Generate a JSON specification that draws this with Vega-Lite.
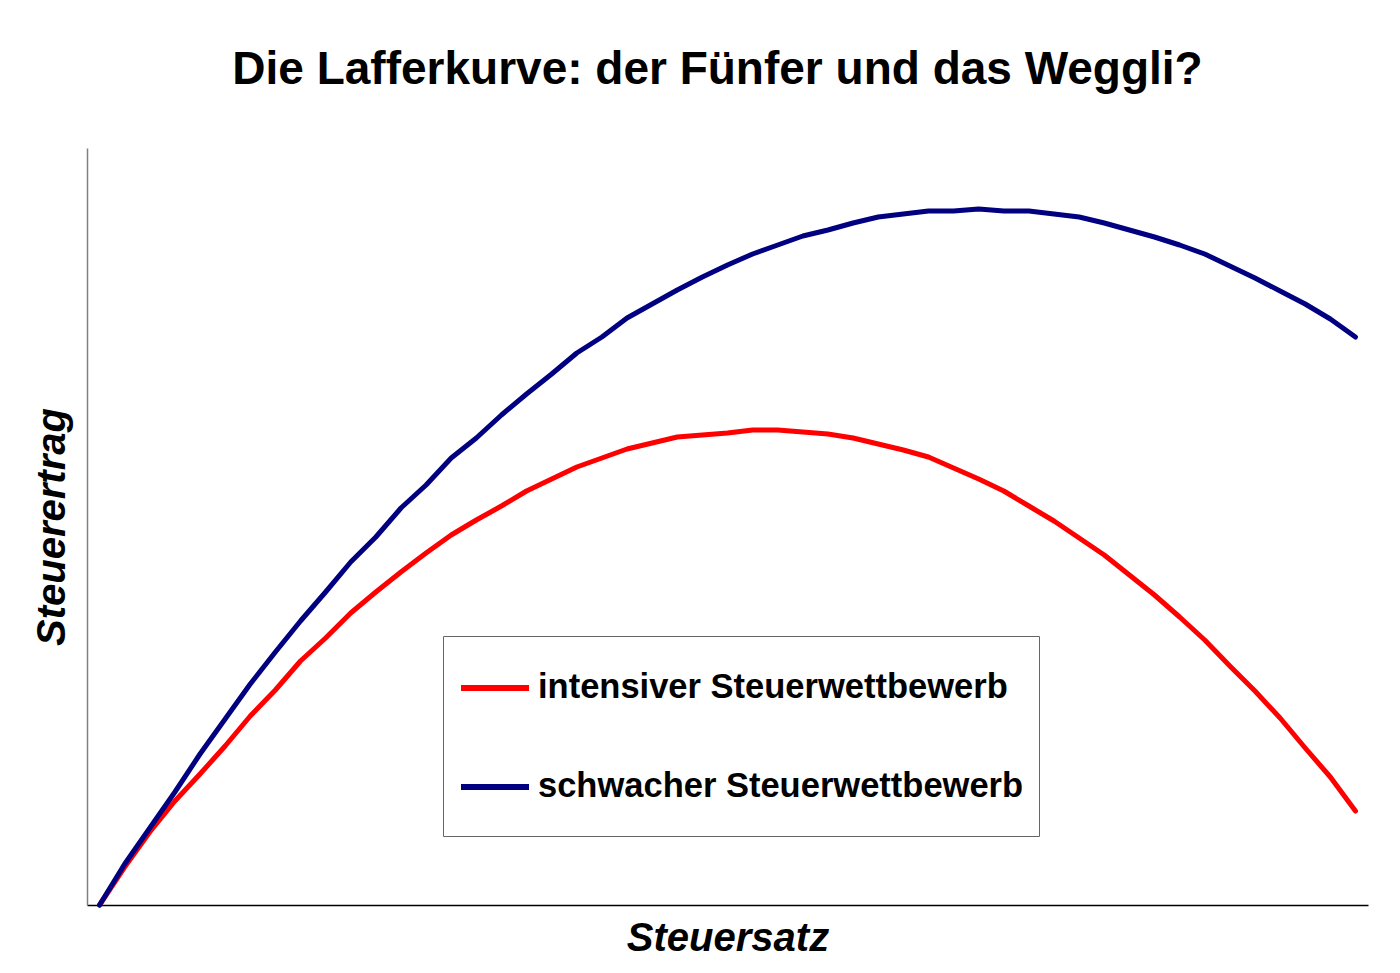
{
  "$schema": "https://vega.github.io/schema/vega-lite/v6.json",
  "autosize": "none",
  "width": 1281,
  "height": 757,
  "padding": {"left": 87, "top": 148, "right": 32, "bottom": 68},
  "background": "white",
  "title": {
    "text": "Die Lafferkurve: der Fünfer und das Weggli?",
    "font": "Liberation Sans",
    "fontSize": 46,
    "fontWeight": "bold",
    "color": "black",
    "anchor": "middle",
    "dx": -10,
    "offset": 54
  },
  "data": {
    "values": [
      {"Steuersatz": 0, "intensiver Steuerwettbewerb": 0, "schwacher Steuerwettbewerb": 0},
      {"Steuersatz": 1, "intensiver Steuerwettbewerb": 38, "schwacher Steuerwettbewerb": 41},
      {"Steuersatz": 2, "intensiver Steuerwettbewerb": 73, "schwacher Steuerwettbewerb": 77},
      {"Steuersatz": 3, "intensiver Steuerwettbewerb": 104, "schwacher Steuerwettbewerb": 113},
      {"Steuersatz": 4, "intensiver Steuerwettbewerb": 131, "schwacher Steuerwettbewerb": 151},
      {"Steuersatz": 5, "intensiver Steuerwettbewerb": 159, "schwacher Steuerwettbewerb": 186},
      {"Steuersatz": 6, "intensiver Steuerwettbewerb": 189, "schwacher Steuerwettbewerb": 221},
      {"Steuersatz": 7, "intensiver Steuerwettbewerb": 215, "schwacher Steuerwettbewerb": 253},
      {"Steuersatz": 8, "intensiver Steuerwettbewerb": 244, "schwacher Steuerwettbewerb": 284},
      {"Steuersatz": 9, "intensiver Steuerwettbewerb": 267, "schwacher Steuerwettbewerb": 313},
      {"Steuersatz": 10, "intensiver Steuerwettbewerb": 292, "schwacher Steuerwettbewerb": 343},
      {"Steuersatz": 11, "intensiver Steuerwettbewerb": 313, "schwacher Steuerwettbewerb": 368},
      {"Steuersatz": 12, "intensiver Steuerwettbewerb": 333, "schwacher Steuerwettbewerb": 397},
      {"Steuersatz": 13, "intensiver Steuerwettbewerb": 352, "schwacher Steuerwettbewerb": 420},
      {"Steuersatz": 14, "intensiver Steuerwettbewerb": 370, "schwacher Steuerwettbewerb": 447},
      {"Steuersatz": 15, "intensiver Steuerwettbewerb": 385, "schwacher Steuerwettbewerb": 467},
      {"Steuersatz": 16, "intensiver Steuerwettbewerb": 399, "schwacher Steuerwettbewerb": 490},
      {"Steuersatz": 17, "intensiver Steuerwettbewerb": 414, "schwacher Steuerwettbewerb": 511},
      {"Steuersatz": 18, "intensiver Steuerwettbewerb": 426, "schwacher Steuerwettbewerb": 531},
      {"Steuersatz": 19, "intensiver Steuerwettbewerb": 438, "schwacher Steuerwettbewerb": 552},
      {"Steuersatz": 20, "intensiver Steuerwettbewerb": 447, "schwacher Steuerwettbewerb": 568},
      {"Steuersatz": 21, "intensiver Steuerwettbewerb": 456, "schwacher Steuerwettbewerb": 587},
      {"Steuersatz": 22, "intensiver Steuerwettbewerb": 462, "schwacher Steuerwettbewerb": 601},
      {"Steuersatz": 23, "intensiver Steuerwettbewerb": 468, "schwacher Steuerwettbewerb": 615},
      {"Steuersatz": 24, "intensiver Steuerwettbewerb": 470, "schwacher Steuerwettbewerb": 628},
      {"Steuersatz": 25, "intensiver Steuerwettbewerb": 472, "schwacher Steuerwettbewerb": 640},
      {"Steuersatz": 26, "intensiver Steuerwettbewerb": 475, "schwacher Steuerwettbewerb": 651},
      {"Steuersatz": 27, "intensiver Steuerwettbewerb": 475, "schwacher Steuerwettbewerb": 660},
      {"Steuersatz": 28, "intensiver Steuerwettbewerb": 473, "schwacher Steuerwettbewerb": 669},
      {"Steuersatz": 29, "intensiver Steuerwettbewerb": 471, "schwacher Steuerwettbewerb": 675},
      {"Steuersatz": 30, "intensiver Steuerwettbewerb": 467, "schwacher Steuerwettbewerb": 682},
      {"Steuersatz": 31, "intensiver Steuerwettbewerb": 461, "schwacher Steuerwettbewerb": 688},
      {"Steuersatz": 32, "intensiver Steuerwettbewerb": 455, "schwacher Steuerwettbewerb": 691},
      {"Steuersatz": 33, "intensiver Steuerwettbewerb": 448, "schwacher Steuerwettbewerb": 694},
      {"Steuersatz": 34, "intensiver Steuerwettbewerb": 437, "schwacher Steuerwettbewerb": 694},
      {"Steuersatz": 35, "intensiver Steuerwettbewerb": 426, "schwacher Steuerwettbewerb": 696},
      {"Steuersatz": 36, "intensiver Steuerwettbewerb": 414, "schwacher Steuerwettbewerb": 694},
      {"Steuersatz": 37, "intensiver Steuerwettbewerb": 399, "schwacher Steuerwettbewerb": 694},
      {"Steuersatz": 38, "intensiver Steuerwettbewerb": 384, "schwacher Steuerwettbewerb": 691},
      {"Steuersatz": 39, "intensiver Steuerwettbewerb": 367, "schwacher Steuerwettbewerb": 688},
      {"Steuersatz": 40, "intensiver Steuerwettbewerb": 350, "schwacher Steuerwettbewerb": 682},
      {"Steuersatz": 41, "intensiver Steuerwettbewerb": 330, "schwacher Steuerwettbewerb": 675},
      {"Steuersatz": 42, "intensiver Steuerwettbewerb": 310, "schwacher Steuerwettbewerb": 668},
      {"Steuersatz": 43, "intensiver Steuerwettbewerb": 288, "schwacher Steuerwettbewerb": 660},
      {"Steuersatz": 44, "intensiver Steuerwettbewerb": 265, "schwacher Steuerwettbewerb": 651},
      {"Steuersatz": 45, "intensiver Steuerwettbewerb": 239, "schwacher Steuerwettbewerb": 639},
      {"Steuersatz": 46, "intensiver Steuerwettbewerb": 214, "schwacher Steuerwettbewerb": 627},
      {"Steuersatz": 47, "intensiver Steuerwettbewerb": 187, "schwacher Steuerwettbewerb": 614},
      {"Steuersatz": 48, "intensiver Steuerwettbewerb": 157, "schwacher Steuerwettbewerb": 601},
      {"Steuersatz": 49, "intensiver Steuerwettbewerb": 128, "schwacher Steuerwettbewerb": 586},
      {"Steuersatz": 50, "intensiver Steuerwettbewerb": 94, "schwacher Steuerwettbewerb": 568}
    ]
  },
  "transform": [
    {"fold": ["intensiver Steuerwettbewerb", "schwacher Steuerwettbewerb"], "as": ["Wettbewerb", "Steuerertrag"]}
  ],
  "mark": {"type": "line", "strokeWidth": 5, "strokeCap": "round", "strokeJoin": "round", "interpolate": "linear"},
  "encoding": {
    "x": {
      "field": "Steuersatz",
      "type": "quantitative",
      "scale": {"domain": [-0.5, 50.5], "nice": false, "zero": false},
      "axis": {
        "title": "Steuersatz",
        "titleFont": "Liberation Sans",
        "titleFontSize": 40,
        "titleFontWeight": "bold",
        "titleFontStyle": "italic",
        "titleColor": "black",
        "titlePadding": 13,
        "labels": false,
        "ticks": false,
        "grid": false,
        "domainColor": "black",
        "domainWidth": 1.5
      }
    },
    "y": {
      "field": "Steuerertrag",
      "type": "quantitative",
      "scale": {"domain": [0, 757], "nice": false},
      "axis": {
        "title": "Steuerertrag",
        "titleFont": "Liberation Sans",
        "titleFontSize": 40,
        "titleFontWeight": "bold",
        "titleFontStyle": "italic",
        "titleColor": "black",
        "titlePadding": 15,
        "labels": false,
        "ticks": false,
        "grid": false,
        "domainColor": "#808080",
        "domainWidth": 1.5
      }
    },
    "color": {
      "field": "Wettbewerb",
      "type": "nominal",
      "scale": {
        "domain": ["intensiver Steuerwettbewerb", "schwacher Steuerwettbewerb"],
        "range": ["#FF0000", "#000080"]
      },
      "legend": {
        "title": " ",
        "titleOrient": "bottom",
        "titleFontSize": 10,
        "titlePadding": 7,
        "orient": "none",
        "legendX": 356,
        "legendY": 488,
        "symbolType": "stroke",
        "symbolSize": 4624,
        "symbolStrokeWidth": 6,
        "labelFont": "Liberation Sans",
        "labelFontSize": 34.5,
        "labelFontWeight": "bold",
        "labelColor": "black",
        "labelOffset": 6,
        "labelLimit": 1000,
        "rowPadding": 45,
        "padding": 15,
        "strokeColor": "#666666",
        "fillColor": "white"
      }
    }
  },
  "config": {
    "view": {"stroke": null}
  }
}
